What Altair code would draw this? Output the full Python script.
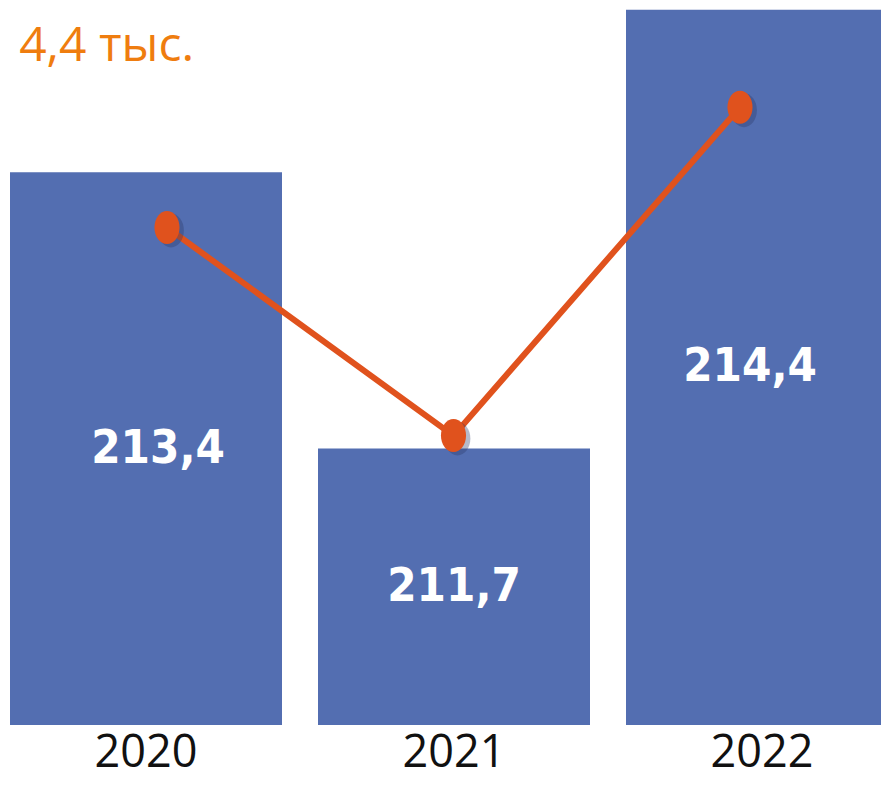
import altair as alt
import pandas as pd

years = ["2020", "2021", "2022"]
bar_values = [213.4, 211.7, 214.4]
bar_labels = ["213,4", "211,7", "214,4"]
line_values = [213.06, 211.78, 213.80]
base_value = 210.0
top_value = 214.41
headline = "4,4 тыс."

BAR_COLOR = "#536EB1"
LINE_COLOR = "#E0521D"
TITLE_COLOR = "#EF7D0F"

df = pd.DataFrame({
    "year": years,
    "value": bar_values,
    "label": bar_labels,
    "line": line_values,
})

y_scale = alt.Scale(domain=[base_value, top_value], nice=False, zero=False)
x_band = alt.Scale(domain=years, range=[2, 890], paddingInner=36 / 308, paddingOuter=0)
x_point = alt.Scale(domain=years, range=[159, 732], padding=0)

base = alt.Chart(df)

bars = base.mark_bar(color=BAR_COLOR).encode(
    x=alt.X("year:N", scale=x_band, sort=years,
            axis=alt.Axis(title=None, domain=False, ticks=False, tickSize=0, grid=False,
                          labelAngle=0, labelFont="Open Sans", labelFontSize=45,
                          labelColor="#111111", labelPadding=41,
                          labelBaseline="alphabetic")),
    y=alt.Y("value:Q", scale=y_scale, axis=None),
    y2=alt.datum(base_value),
)

labels = base.transform_calculate(
    mid=f"(datum.value + {base_value}) / 2"
).mark_text(
    color="white",
    font="'Noto Sans ExtraCondensed', 'Noto Sans Condensed', 'DejaVu Sans Condensed', 'Liberation Sans Narrow', sans-serif",
    fontWeight="bold", fontSize=47,
    baseline="middle", align="center"
).encode(
    x=alt.X("year:N", scale=x_band, sort=years, axis=None),
    y=alt.Y("mid:Q", scale=y_scale, axis=None),
    text="label:N",
)

line = base.mark_line(color=LINE_COLOR, strokeWidth=6).encode(
    x=alt.X("year:N", scale=x_point, sort=years, axis=None),
    y=alt.Y("line:Q", scale=y_scale, axis=None),
)

ellipse = "M-0.76,0 A0.76,1 0 1,0 0.76,0 A0.76,1 0 1,0 -0.76,0 Z"
shadow = base.mark_point(
    shape=ellipse, filled=True, color="#2B3A66", opacity=0.35, size=1150
).encode(
    x=alt.X("year:N", scale=x_point, sort=years, axis=None),
    y=alt.Y("line:Q", scale=y_scale, axis=None),
    xOffset=alt.value(4),
    yOffset=alt.value(3),
)
points = base.mark_point(
    shape=ellipse, filled=True, color=LINE_COLOR, opacity=1, size=1089
).encode(
    x=alt.X("year:N", scale=x_point, sort=years, axis=None),
    y=alt.Y("line:Q", scale=y_scale, axis=None),
)

title = alt.Chart(pd.DataFrame({"t": [headline]})).mark_text(
    color=TITLE_COLOR, font="Open Sans", fontSize=48, align="right",
    baseline="alphabetic"
).encode(
    x=alt.value(186),
    y=alt.value(53),
    text="t:N",
)

chart = alt.layer(bars, labels, line, shadow, points, title).resolve_scale(
    x="independent"
).properties(
    width=873, height=717,
    autosize=alt.AutoSizeParams(type="none"),
    padding={"left": 0, "top": 0, "right": 0, "bottom": 53},
).configure_view(stroke=None)

chart.save("out.html", embed_options={"renderer": "svg", "actions": False})
